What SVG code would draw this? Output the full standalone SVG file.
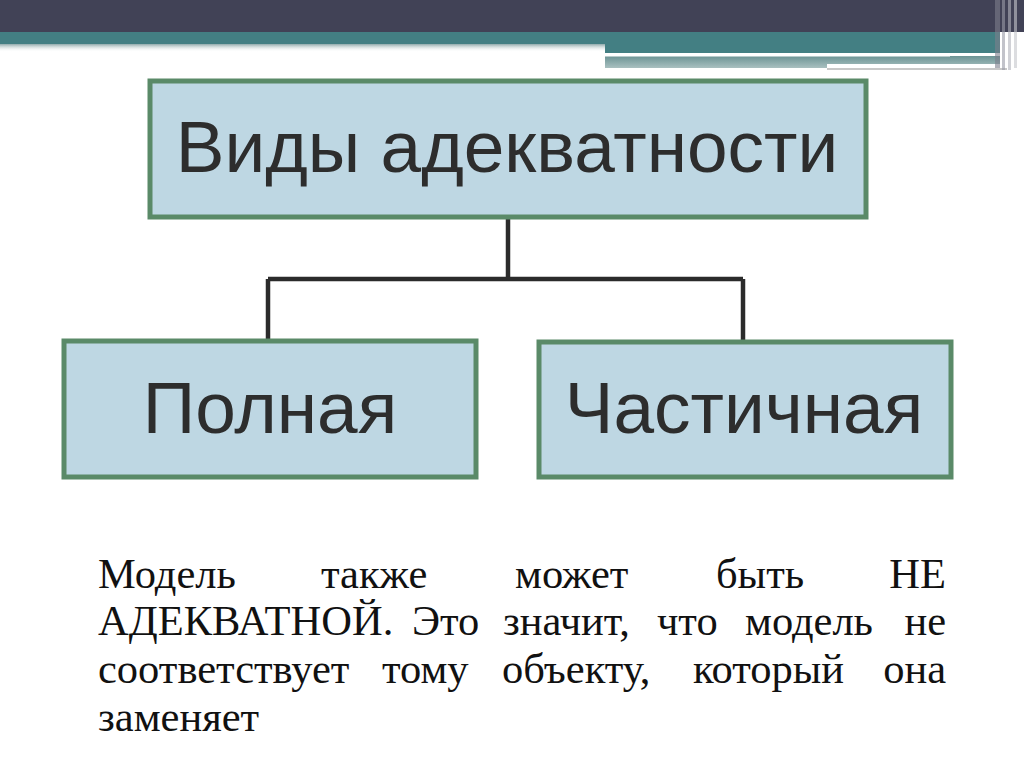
<svg xmlns="http://www.w3.org/2000/svg" width="1024" height="767" viewBox="0 0 1024 767">
<defs>
<linearGradient id="sh" x1="0" y1="0" x2="0" y2="1"><stop offset="0" stop-color="#8fa9aa"/><stop offset="1" stop-color="#ffffff" stop-opacity="0"/></linearGradient>
<linearGradient id="band2" x1="0" y1="0" x2="0" y2="1"><stop offset="0" stop-color="#6b9394"/><stop offset="1" stop-color="#a9c0c0"/></linearGradient>
<style>
.box{fill:#bed7e3;stroke:#5a8a68;stroke-width:5}
.lbl{font-family:"Liberation Sans",Arial,sans-serif;font-size:73px;fill:#2d2d2d;text-anchor:middle}
.con{fill:none;stroke:#2b2b2b;stroke-width:4.5}
</style>
</defs>
<rect width="1024" height="767" fill="#ffffff"/>
<g id="header">
<rect x="0" y="0" width="1024" height="32" fill="#414256"/>
<rect x="0" y="44" width="605" height="8" fill="url(#sh)"/>
<rect x="0" y="32" width="1000" height="12" fill="#437f83"/>
<rect x="605" y="32" width="395" height="21" fill="#437f83"/>
<rect x="605" y="56" width="395" height="12" fill="url(#band2)"/>
<rect x="605" y="53" width="345" height="3.5" fill="#ffffff"/>
<rect x="827" y="68" width="180" height="2" fill="#c8c8c8"/>
<rect x="827" y="64" width="180" height="4" fill="#ffffff"/>
<rect x="995" y="0" width="5" height="68" fill="#7d7e8c" opacity="0.6"/>
<rect x="1002" y="0" width="3" height="70" fill="#9a9ba6" opacity="0.6"/>
<rect x="1008" y="0" width="3" height="70" fill="#b0b2ba" opacity="0.6"/>
<rect x="1014" y="0" width="3" height="68" fill="#c4c6cc" opacity="0.6"/>
</g>
<g id="connectors">
<path class="con" d="M508 218 V279"/>
<path class="con" d="M268 279 H743"/>
<path class="con" d="M268 279 V340"/>
<path class="con" d="M743 279 V341"/>
</g>
<g id="node-root">
<rect class="box" x="150" y="81" width="716" height="136"/>
<text class="lbl" x="507" y="172">Виды адекватности</text>
</g>
<g id="node-full">
<rect class="box" x="64" y="341" width="412" height="136"/>
<text class="lbl" x="270" y="433">Полная</text>
</g>
<g id="node-partial">
<rect class="box" x="539" y="342" width="412" height="135"/>
<text class="lbl" x="744" y="433">Частичная</text>
</g>
<g id="paragraph" font-family="'Liberation Serif', 'Times New Roman', serif" font-size="42.5" fill="#111111">
<text x="98" y="588">Модель</text>
<text x="321" y="588">также</text>
<text x="515" y="588">может</text>
<text x="716" y="588">быть</text>
<text x="946" y="588" text-anchor="end">НЕ</text>
<text x="98" y="635">АДЕКВАТНОЙ.</text>
<text x="412" y="635">Это</text>
<text x="503" y="635">значит,</text>
<text x="657" y="635">что</text>
<text x="745" y="635">модель</text>
<text x="946" y="635" text-anchor="end">не</text>
<text x="98" y="683">соответствует</text>
<text x="382" y="683">тому</text>
<text x="502" y="683">объекту,</text>
<text x="693" y="683">который</text>
<text x="946" y="683" text-anchor="end">она</text>
<text x="98" y="731">заменяет</text>
</g>
</svg>
